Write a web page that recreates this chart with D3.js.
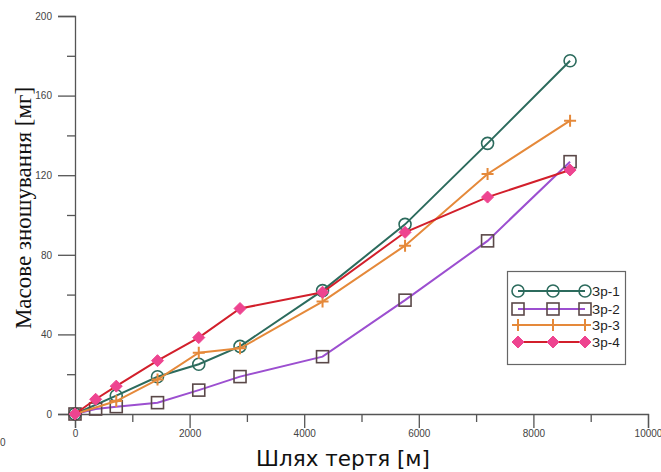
<!DOCTYPE html>
<html><head><meta charset="utf-8">
<script src="https://cdn.jsdelivr.net/npm/d3@7"></script>
<style>body{margin:0;background:#fff}svg{display:block}</style>
</head><body>
<svg id="c" width="661" height="472"></svg>
<script>
const seriesNames = ["Зр-1","Зр-2","Зр-3","Зр-4"];
const x1 = [0,720,1440,2160,2880,4320,5760,7200,8640];
const y1 = [0,9.2,18.7,25,34,62,95.3,136,177.5];
const x2 = [0,360,720,1440,2160,2880,4320,5760,7200,8640];
const y2 = [0,2.5,3.7,5.7,12,18.8,28.8,57.2,87,126.8];
const x3 = [0,720,1440,2160,2880,4320,5760,7200,8640];
const y3 = [0,6.5,17.3,30.8,33,56.5,84.6,120.6,147.4];
const x4 = [0,360,720,1440,2160,2880,4320,5760,7200,8640];
const y4 = [0,7.4,14,26.8,38.4,53,61.2,91.3,109,122.6];
const xTicks = [0,2000,4000,6000,8000,10000];
const yTicks = [0,40,80,120,160,200];

const svg = d3.select("#c");
const x = d3.scaleLinear().domain([0,10000]).range([75,648]);
const y = d3.scaleLinear().domain([0,200]).range([414,16]);
const axisColor = "#555";

// Y axis
const ya = svg.append("g").attr("transform","translate(75,0)")
  .call(d3.axisLeft(y).tickValues(yTicks).tickSize(17).tickPadding(6));
ya.select(".domain").attr("stroke",axisColor).attr("stroke-width",1.3);
ya.selectAll(".tick line").attr("stroke",axisColor).attr("stroke-width",1.3);
ya.selectAll(".tick text").attr("fill","#444").attr("font-family","Liberation Sans, Arial, sans-serif").attr("font-size",10);
const ym = svg.append("g").attr("transform","translate(75,0)")
  .call(d3.axisLeft(y).tickValues(d3.range(20,200,40)).tickSize(8).tickFormat(""));
ym.select(".domain").remove();
ym.selectAll(".tick line").attr("stroke",axisColor).attr("stroke-width",1.3);

// X axis
const xa = svg.append("g").attr("transform","translate(0,414)")
  .call(d3.axisBottom(x).tickValues(xTicks).tickSize(14).tickPadding(2).tickFormat(d3.format("d")));
xa.select(".domain").attr("stroke",axisColor).attr("stroke-width",1.3);
xa.selectAll(".tick line").attr("stroke",axisColor).attr("stroke-width",1.3);
xa.selectAll(".tick text").attr("fill","#444").attr("font-family","Liberation Sans, Arial, sans-serif").attr("font-size",10);
const xm = svg.append("g").attr("transform","translate(0,414)")
  .call(d3.axisBottom(x).tickValues(d3.range(1000,10000,2000)).tickSize(8).tickFormat(""));
xm.select(".domain").remove();
xm.selectAll(".tick line").attr("stroke",axisColor).attr("stroke-width",1.3);
// stray label at far left
svg.append("text").attr("x",0).attr("y",446).attr("text-anchor","start")
  .attr("fill","#444").attr("font-family","Liberation Sans, Arial, sans-serif").attr("font-size",10).text("0");

// Titles
svg.append("text").attr("x",343).attr("y",466).attr("text-anchor","middle")
  .attr("font-family","DejaVu Sans, Verdana, sans-serif").attr("font-size",21.5).attr("fill","#111")
  .text("Шлях тертя [м]");
svg.append("text").attr("transform","translate(31,208) rotate(-90)").attr("text-anchor","middle")
  .attr("font-family","Liberation Serif, Times New Roman, serif").attr("font-size",23).attr("fill","#111")
  .text("Масове зношування [мг]");

const styles = [
  {line:"#2c6b5d", mk:"circle", stroke:"#2c6b5d", fill:"none"},
  {line:"#9c4fd0", mk:"square", stroke:"#5a4848", fill:"none"},
  {line:"#e5893a", mk:"plus", stroke:"#e5893a", fill:"none"},
  {line:"#d21f2b", mk:"diamond", stroke:"#ee4490", fill:"#ee4490"}
];
const data = [[x1,y1],[x2,y2],[x3,y3],[x4,y4]];

function marker(g, s, cx, cy){
  if(s.mk==="circle") g.append("circle").attr("cx",cx).attr("cy",cy).attr("r",6).attr("fill","none").attr("stroke",s.stroke).attr("stroke-width",1.6);
  else if(s.mk==="square") g.append("rect").attr("x",cx-6).attr("y",cy-6).attr("width",12).attr("height",12).attr("fill","none").attr("stroke",s.stroke).attr("stroke-width",1.6);
  else if(s.mk==="plus") g.append("path").attr("d",`M${cx-6},${cy}H${cx+6}M${cx},${cy-6}V${cy+6}`).attr("stroke",s.stroke).attr("stroke-width",2);
  else g.append("path").attr("d",`M${cx},${cy-6}L${cx+6},${cy}L${cx},${cy+6}L${cx-6},${cy}Z`).attr("fill",s.fill).attr("stroke",s.stroke).attr("stroke-width",1);
}

const line = d3.line().x(d=>x(d[0])).y(d=>y(d[1]));
data.forEach((d,i)=>{
  const pts = d[0].map((v,j)=>[v,d[1][j]]);
  const g = svg.append("g");
  g.append("path").datum(pts).attr("d",line).attr("fill","none").attr("stroke",styles[i].line).attr("stroke-width",2);
  pts.forEach(p=>marker(g, styles[i], x(p[0]), y(p[1])));
});

// Legend
const lg = svg.append("g");
lg.append("rect").attr("x",507.5).attr("y",271.5).attr("width",118).attr("height",93).attr("fill","#fff").attr("stroke","#666").attr("stroke-width",1.2);
const rows = [291,309,325,342];
seriesNames.forEach((n,i)=>{
  lg.append("line").attr("x1",518).attr("x2",585).attr("y1",rows[i]).attr("y2",rows[i]).attr("stroke",styles[i].line).attr("stroke-width",2);
  [518,553,585].forEach(mx=>marker(lg, styles[i], mx, rows[i]));
  lg.append("text").attr("x",592).attr("y",rows[i]+5).attr("font-family","Liberation Sans, Arial, sans-serif").attr("font-size",13.5).attr("fill","#222").text(n);
});
</script>
</body></html>
